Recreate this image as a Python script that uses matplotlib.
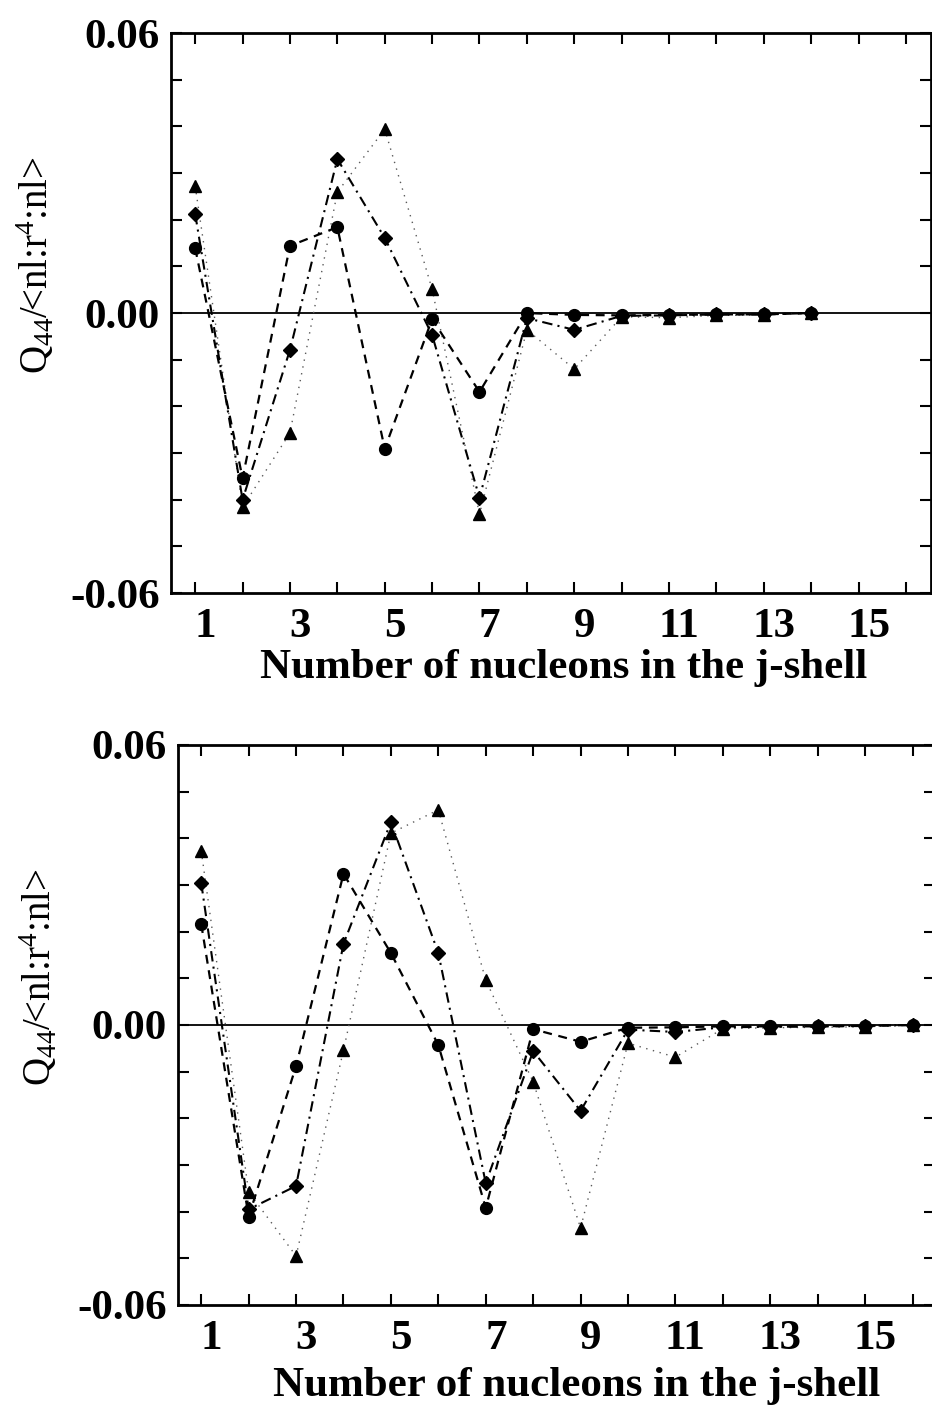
import matplotlib
matplotlib.use('Agg')
import matplotlib.pyplot as plt
import matplotlib.transforms as mtransforms
import numpy as np

plt.rcParams['font.family'] = 'Liberation Serif'
plt.rcParams['mathtext.fontset'] = 'custom'
plt.rcParams['mathtext.rm'] = 'Liberation Serif'
plt.rcParams['mathtext.it'] = 'Liberation Serif:italic'
plt.rcParams['mathtext.bf'] = 'Liberation Serif:bold'

# upper panel: j-shell with 14 places
n_top = np.arange(1, 15)
circ_top = [0.0139, -0.0354, 0.0144, 0.0184, -0.0291, -0.0013, -0.0169,
            0.0, -0.0004, -0.0005, -0.0004, -0.0003, -0.0003, 0.0]
diam_top = [0.0212, -0.0400, -0.0079, 0.0330, 0.0161, -0.0047, -0.0396,
            -0.0011, -0.0036, -0.0006, -0.0005, -0.0003, -0.0003, 0.0]
tri_top = [0.0272, -0.0416, -0.0257, 0.0259, 0.0394, 0.0051, -0.0431,
           -0.0036, -0.0120, -0.0008, -0.0010, -0.0005, -0.0004, 0.0]

# lower panel: j-shell with 16 places
n_bot = np.arange(1, 17)
circ_bot = [0.0216, -0.0411, -0.0088, 0.0324, 0.0154, -0.0043, -0.0392,
            -0.0009, -0.0036, -0.0006, -0.0005, -0.0003, -0.0003, -0.0003,
            -0.0002, 0.0]
diam_bot = [0.0304, -0.0395, -0.0345, 0.0174, 0.0435, 0.0154, -0.0339,
            -0.0056, -0.0184, -0.0010, -0.0015, -0.0005, -0.0004, -0.0003,
            -0.0002, 0.0]
tri_bot = [0.0373, -0.0358, -0.0495, -0.0054, 0.0411, 0.0461, 0.0096,
           -0.0122, -0.0435, -0.0039, -0.0069, -0.0008, -0.0006, -0.0005,
           -0.0004, 0.0]

xlabels = ['1', '3', '5', '7', '9', '11', '13', '15']
ylabels = ['-0.06', '0.00', '0.06']

fig = plt.figure(figsize=(9.32, 14.12), dpi=100)
ax1 = fig.add_axes([0.1835, 0.580, 0.8155, 0.3966])
ax2 = fig.add_axes([0.191, 0.0758, 0.812, 0.3966])

# axes, x values, three series, x range, ylabel x, xlabel (x, y)
panels = [(ax1, n_top, circ_top, diam_top, tri_top, (0.49, 16.53), -0.150,
           (0.517, -0.100)),
          (ax2, n_bot, circ_bot, diam_bot, tri_bot, (0.51, 16.47), -0.156,
           (0.527, -0.110))]

shift = mtransforms.ScaledTranslation(0.10, 0, fig.dpi_scale_trans)

for ax, n, c, d, t, xl, ylx, xlab in panels:
    ax.axhline(0, color='black', lw=1.3, zorder=1)
    ax.plot(n, t, color='0.35', lw=1.0, ls=(0, (1, 4)),
            marker='^', ms=9, mfc='black', mec='black', zorder=3)
    ax.plot(n, d, color='black', lw=1.5, ls=(0, (5, 2.5, 1, 2.5)),
            marker='D', ms=7, mfc='black', mec='black', zorder=4)
    ax.plot(n, c, color='black', lw=1.6, ls=(0, (4, 3)),
            marker='o', ms=8.5, mfc='black', mec='black', zorder=5)

    ax.set_xlim(*xl)
    ax.set_ylim(-0.06, 0.06)
    ax.set_xticks(np.arange(1, 16, 2))
    ax.set_xticklabels(xlabels)
    ax.set_xticks(np.arange(2, 17, 2), minor=True)
    ax.set_yticks([-0.06, 0.0, 0.06])
    ax.set_yticklabels(ylabels)
    ax.set_yticks(np.arange(-0.05, 0.051, 0.01), minor=True)
    ax.tick_params(which='both', direction='in', top=True, right=True,
                   length=8, width=1.5, labelsize=31, pad=8)
    ax.tick_params(axis='x', which='both', pad=11)
    for lab in ax.get_xticklabels() + ax.get_yticklabels():
        lab.set_fontweight('bold')
    for lab in ax.get_xticklabels():
        lab.set_transform(lab.get_transform() + shift)
    for s in ax.spines.values():
        s.set_linewidth(2.0)

    ax.set_xlabel('Number of nucleons in the j-shell', fontsize=31,
                  fontweight='bold')
    ax.xaxis.set_label_coords(*xlab)
    ax.set_ylabel(r'Q$_{44}$/<nl:r$^{4}$:nl>', fontsize=28)
    ax.yaxis.set_label_coords(ylx, 0.586)

fig.savefig('out.png', dpi=100)
